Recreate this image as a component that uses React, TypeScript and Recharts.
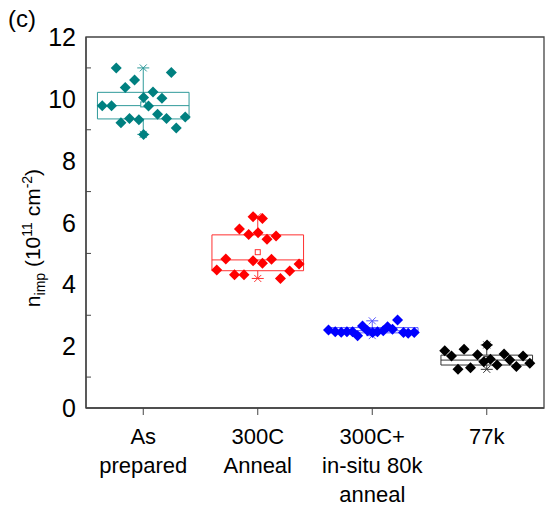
import React from "react";
import {
  ScatterChart,
  Scatter,
  XAxis,
  YAxis,
  ReferenceArea,
  ReferenceLine,
  ReferenceDot,
} from "recharts";

const categories = ["As\nprepared", "300C\nAnneal", "300C+\nin-situ 80k\nanneal", "77k"];
const colors = ["#008080", "#ff0000", "#0000ff", "#000000"];
const boxColors = ["#2f9a9a", "#ff3030", "#5a5aff", "#333333"];
const yTicks = [0, 1, 2, 3, 4, 5, 6, 7, 8, 9, 10, 11, 12];
const xTicks = [1, 2, 3, 4];

// box statistics per category
const boxLow = [9.35, 4.44, 2.43, 1.39];
const boxHigh = [10.21, 5.6, 2.6, 1.71];
const medians = [9.78, 4.79, 2.5, 1.55];
const means = [9.82, 5.04, 2.52, 1.58];
const whiskerLow = [8.85, 4.19, 2.34, 1.25];
const whiskerHigh = [11.0, 6.19, 2.82, 2.04];

// scatter points (x = category position incl. jitter)
const asPreparedX = [0.764, 0.924, 1.245, 0.843, 1.085, 1.003, 1.163, 0.642, 0.723, 1.046, 1.125, 0.88, 0.962, 1.203, 1.367, 0.805, 1.288, 1.003];
const asPreparedY = [11.0, 10.61, 10.85, 10.37, 10.22, 10.04, 10.02, 9.78, 9.78, 9.77, 9.5, 9.36, 9.32, 9.36, 9.41, 9.23, 9.06, 8.85];
const annealX = [1.959, 2.041, 1.84, 1.921, 2.003, 2.081, 2.16, 1.721, 1.959, 2.041, 2.12, 1.642, 1.797, 1.88, 2.279, 2.361, 2.198];
const annealY = [6.19, 6.13, 5.79, 5.61, 5.67, 5.46, 5.56, 4.82, 4.76, 4.68, 4.81, 4.46, 4.31, 4.31, 4.43, 4.66, 4.19];
const inSituX = [2.618, 2.677, 2.729, 2.779, 2.828, 2.872, 2.915, 2.959, 3.003, 3.046, 3.096, 3.134, 3.177, 3.221, 3.273, 3.314, 3.367];
const inSituY = [2.52, 2.47, 2.45, 2.47, 2.47, 2.34, 2.65, 2.5, 2.44, 2.47, 2.5, 2.63, 2.55, 2.85, 2.44, 2.42, 2.44];
const k77X = [3.633, 3.692, 3.802, 3.749, 3.858, 3.919, 4.003, 3.974, 4.032, 4.09, 4.151, 4.201, 4.259, 4.317, 4.376];
const k77Y = [1.85, 1.68, 1.9, 1.25, 1.3, 1.72, 2.04, 1.5, 1.58, 1.39, 1.75, 1.55, 1.34, 1.68, 1.45];

const groups = [
  { x: asPreparedX, y: asPreparedY },
  { x: annealX, y: annealY },
  { x: inSituX, y: inSituY },
  { x: k77X, y: k77Y },
];

const FONT = "'Liberation Sans', Arial, sans-serif";
const HALF_BOX = 0.4;

const Diamond = (props: any) => {
  const { cx, cy, fill } = props;
  const s = 5.5;
  return (
    <polygon
      points={`${cx},${cy - s} ${cx + s},${cy} ${cx},${cy + s} ${cx - s},${cy}`}
      fill={fill}
    />
  );
};

const MeanMark = (color: string) => (props: any) => {
  const { cx, cy } = props;
  return <rect x={cx - 2.5} y={cy - 2.5} width={5} height={5} fill="white" stroke={color} strokeWidth={1} />;
};

const ExtremeMark = (color: string) => (props: any) => {
  const { cx, cy } = props;
  const s = 3.5;
  return (
    <g stroke={color} strokeWidth={1}>
      <line x1={cx - s} y1={cy - s} x2={cx + s} y2={cy + s} />
      <line x1={cx - s} y1={cy + s} x2={cx + s} y2={cy - s} />
      <line x1={cx - 6} y1={cy} x2={cx + 6} y2={cy} />
    </g>
  );
};

const YTick = (props: any) => {
  const { x, y, payload } = props;
  const v = payload.value as number;
  const axisX = x + 8;
  if (v % 2 === 1) {
    return <line x1={axisX} y1={y} x2={axisX + 5} y2={y} stroke="#444" strokeWidth={1} />;
  }
  return (
    <text x={x - 2} y={y} dy={9} textAnchor="end" fontSize={25} fontFamily={FONT} fill="#000">
      {v}
    </text>
  );
};

const XTick = (props: any) => {
  const { x, y, payload } = props;
  const idx = xTicks.indexOf(payload.value);
  const lines = (categories[idx] || "").split("\n");
  return (
    <text x={x} y={y} textAnchor="middle" fontSize={22} fontFamily={FONT} fill="#000">
      {lines.map((l, i) => (
        <tspan key={i} x={x} dy={i === 0 ? 29 : 29}>
          {l}
        </tspan>
      ))}
    </text>
  );
};

const YLabel = () => (
  <text
    x={40}
    y={238}
    transform="rotate(-90, 40, 238)"
    textAnchor="middle"
    fontSize={21}
    fontFamily={FONT}
    fill="#000"
  >
    <tspan>n</tspan>
    <tspan fontSize={14} dy={5}>imp</tspan>
    <tspan dy={-5}> (10</tspan>
    <tspan fontSize={14} dy={-8}>11</tspan>
    <tspan dy={8}> cm</tspan>
    <tspan fontSize={14} dy={-8}>-2</tspan>
    <tspan dy={8}>)</tspan>
  </text>
);

export default function App() {
  return (
    <div style={{ position: "absolute", left: 0, top: 0, width: 547, height: 506, background: "#fff" }}>
      <div
        style={{
          position: "absolute",
          left: 8,
          top: 5,
          fontSize: 24,
          fontFamily: FONT,
          color: "#000",
        }}
      >
        (c)
      </div>
      <ScatterChart width={547} height={506} margin={{ top: 37, right: 3, bottom: 0, left: 0 }}>
        <XAxis
          type="number"
          dataKey="x"
          domain={[0.5, 4.5]}
          ticks={xTicks}
          allowDataOverflow
          tick={<XTick />}
          tickSize={7}
          tickMargin={0}
          height={98}
          axisLine={{ stroke: "#444", strokeWidth: 1.3 }}
          tickLine={{ stroke: "#444", strokeWidth: 1 }}
        />
        <YAxis
          type="number"
          dataKey="y"
          domain={[0, 12]}
          ticks={yTicks}
          interval={0}
          allowDataOverflow
          tick={<YTick />}
          tickLine={false}
          tickSize={0}
          tickMargin={8}
          width={86}
          axisLine={{ stroke: "#444", strokeWidth: 1.3 }}
          label={<YLabel />}
        />
        <ReferenceArea x1={0.5} x2={4.5} y1={0} y2={12} fill="none" stroke="#444" strokeWidth={1.3} />
        {categories.map((_, i) => (
          <ReferenceArea
            key={`box${i}`}
            x1={i + 1 - HALF_BOX}
            x2={i + 1 + HALF_BOX}
            y1={boxLow[i]}
            y2={boxHigh[i]}
            fill="none"
            fillOpacity={0}
            stroke={boxColors[i]}
            strokeWidth={1}
          />
        ))}
        {categories.map((_, i) => (
          <ReferenceLine
            key={`med${i}`}
            segment={[
              { x: i + 1 - HALF_BOX, y: medians[i] },
              { x: i + 1 + HALF_BOX, y: medians[i] },
            ]}
            stroke={boxColors[i]}
            strokeWidth={1}
          />
        ))}
        {categories.map((_, i) => (
          <ReferenceLine
            key={`wl${i}`}
            segment={[
              { x: i + 1, y: whiskerLow[i] },
              { x: i + 1, y: boxLow[i] },
            ]}
            stroke={boxColors[i]}
            strokeWidth={1}
          />
        ))}
        {categories.map((_, i) => (
          <ReferenceLine
            key={`wh${i}`}
            segment={[
              { x: i + 1, y: boxHigh[i] },
              { x: i + 1, y: whiskerHigh[i] },
            ]}
            stroke={boxColors[i]}
            strokeWidth={1}
          />
        ))}
        {categories.map((_, i) => (
          <ReferenceDot key={`mean${i}`} x={i + 1} y={means[i]} shape={MeanMark(boxColors[i])} />
        ))}
        {categories.map((_, i) => (
          <ReferenceDot key={`min${i}`} x={i + 1} y={whiskerLow[i]} shape={ExtremeMark(boxColors[i])} />
        ))}
        {categories.map((_, i) => (
          <ReferenceDot key={`max${i}`} x={i + 1} y={whiskerHigh[i]} shape={ExtremeMark(boxColors[i])} />
        ))}
        {groups.map((g, i) => (
          <Scatter
            key={`s${i}`}
            data={g.x.map((x, j) => ({ x, y: g.y[j] }))}
            fill={colors[i]}
            shape={<Diamond />}
            isAnimationActive={false}
          />
        ))}
      </ScatterChart>
    </div>
  );
}
